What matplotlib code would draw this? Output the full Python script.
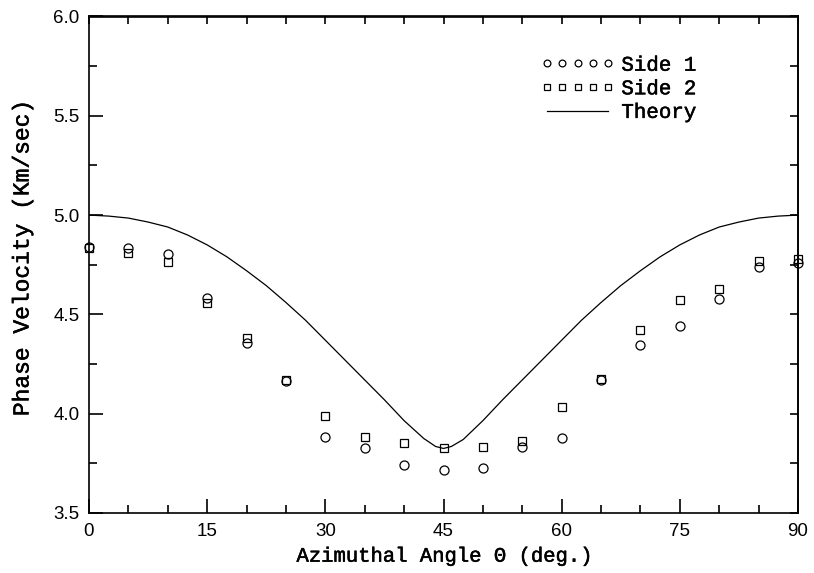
import numpy as np
import matplotlib
matplotlib.use('Agg')
import matplotlib.pyplot as plt
import matplotlib.patheffects as pe

angles = [0, 5, 10, 15, 20, 25, 30, 35, 40, 45, 50, 55, 60, 65, 70, 75, 80, 85, 90]
side1 = [4.84, 4.835, 4.805, 4.585, 4.355, 4.165, 3.885, 3.825, 3.74, 3.715, 3.725,
         3.83, 3.88, 4.17, 4.345, 4.44, 4.58, 4.74, 4.76]
side2 = [4.835, 4.81, 4.765, 4.555, 4.38, 4.17, 3.99, 3.885, 3.85, 3.825, 3.83,
         3.865, 4.035, 4.175, 4.42, 4.575, 4.63, 4.77, 4.78]

# Theory curve
theory_angle = [0, 2.5, 5, 7.5, 10, 12.5, 15, 17.5, 20, 22.5, 25, 27.5, 30, 32.5, 35,
                37.5, 40, 42.5, 44, 45, 46, 47.5, 50, 52.5, 55, 57.5, 60, 62.5, 65,
                67.5, 70, 72.5, 75, 77.5, 80, 82.5, 85, 87.5, 90]
theory_vel = [5.0, 4.995, 4.985, 4.965, 4.94, 4.90, 4.85, 4.79, 4.72, 4.645, 4.56,
              4.47, 4.37, 4.27, 4.17, 4.07, 3.965, 3.875, 3.835, 3.825, 3.835, 3.87,
              3.965, 4.07, 4.17, 4.27, 4.37, 4.47, 4.56, 4.645, 4.72, 4.79, 4.85,
              4.90, 4.94, 4.965, 4.985, 4.995, 5.0]

mono = 'Liberation Mono'
sans = 'Liberation Sans'
thick = [pe.withStroke(linewidth=0.35, foreground='black')]  # fatten the thin mono font a bit

fig = plt.figure(figsize=(8.14, 5.73), dpi=100)
ax = fig.add_axes([89 / 814, 1 - 513 / 573, 709 / 814, 496.5 / 573])

ax.plot(angles, side1, linestyle='none', marker='o', markersize=6.5, clip_on=False,
        markerfacecolor='none', markeredgecolor='black', markeredgewidth=0.9, label='Side 1')
ax.plot(angles, side2, linestyle='none', marker='s', markersize=5.8, clip_on=False,
        markerfacecolor='none', markeredgecolor='black', markeredgewidth=0.9, label='Side 2')
ax.plot(theory_angle, theory_vel, color='black', linewidth=0.9, label='Theory')

ax.set_xlim(0, 90)
ax.set_ylim(3.5, 6.0)
ax.set_xticks(range(0, 91, 15))
ax.set_xticks(range(0, 91, 5), minor=True)
ax.set_yticks(np.arange(3.5, 6.01, 0.5))
ax.set_yticks(np.arange(3.5, 6.01, 0.25), minor=True)
ax.set_yticklabels(['%.1f' % v for v in np.arange(3.5, 6.01, 0.5)])

ax.tick_params(which='both', direction='in', width=1.2, labelsize=13.5, pad=7)
ax.tick_params(which='major', length=10)
ax.tick_params(which='minor', length=6)
for lbl in ax.get_xticklabels() + ax.get_yticklabels():
    lbl.set_fontfamily(sans)

# top and right ticks all short, no labels
top = ax.secondary_xaxis('top')
top.set_xticks(range(0, 91, 5))
top.tick_params(direction='in', length=6, width=1.2, labeltop=False)
right = ax.secondary_yaxis('right')
right.set_yticks(np.arange(3.5, 6.01, 0.25))
right.tick_params(direction='in', length=6, width=1.2, labelright=False)

for s in list(ax.spines.values()) + list(top.spines.values()) + list(right.spines.values()):
    s.set_linewidth(1.2)

xl = ax.set_xlabel('Azimuthal Angle \u0398 (deg.)', fontsize=14.8, fontfamily=mono, labelpad=5)
xl.set_path_effects(thick)
fig.text(22 / 814, 1 - 258 / 573, 'Phase Velocity (Km/sec)', rotation=90,
         ha='center', va='center', fontsize=16.5, fontfamily=mono, path_effects=thick)

leg = ax.legend(loc='upper left', bbox_to_anchor=(0.623, 0.942), frameon=False, numpoints=5,
                handlelength=3.5, handletextpad=0.35, labelspacing=0.22, borderpad=0,
                markerscale=0.75, prop={'family': mono, 'size': 15})
for t in leg.get_texts():
    t.set_path_effects(thick)

fig.savefig('out.png', dpi=100)
